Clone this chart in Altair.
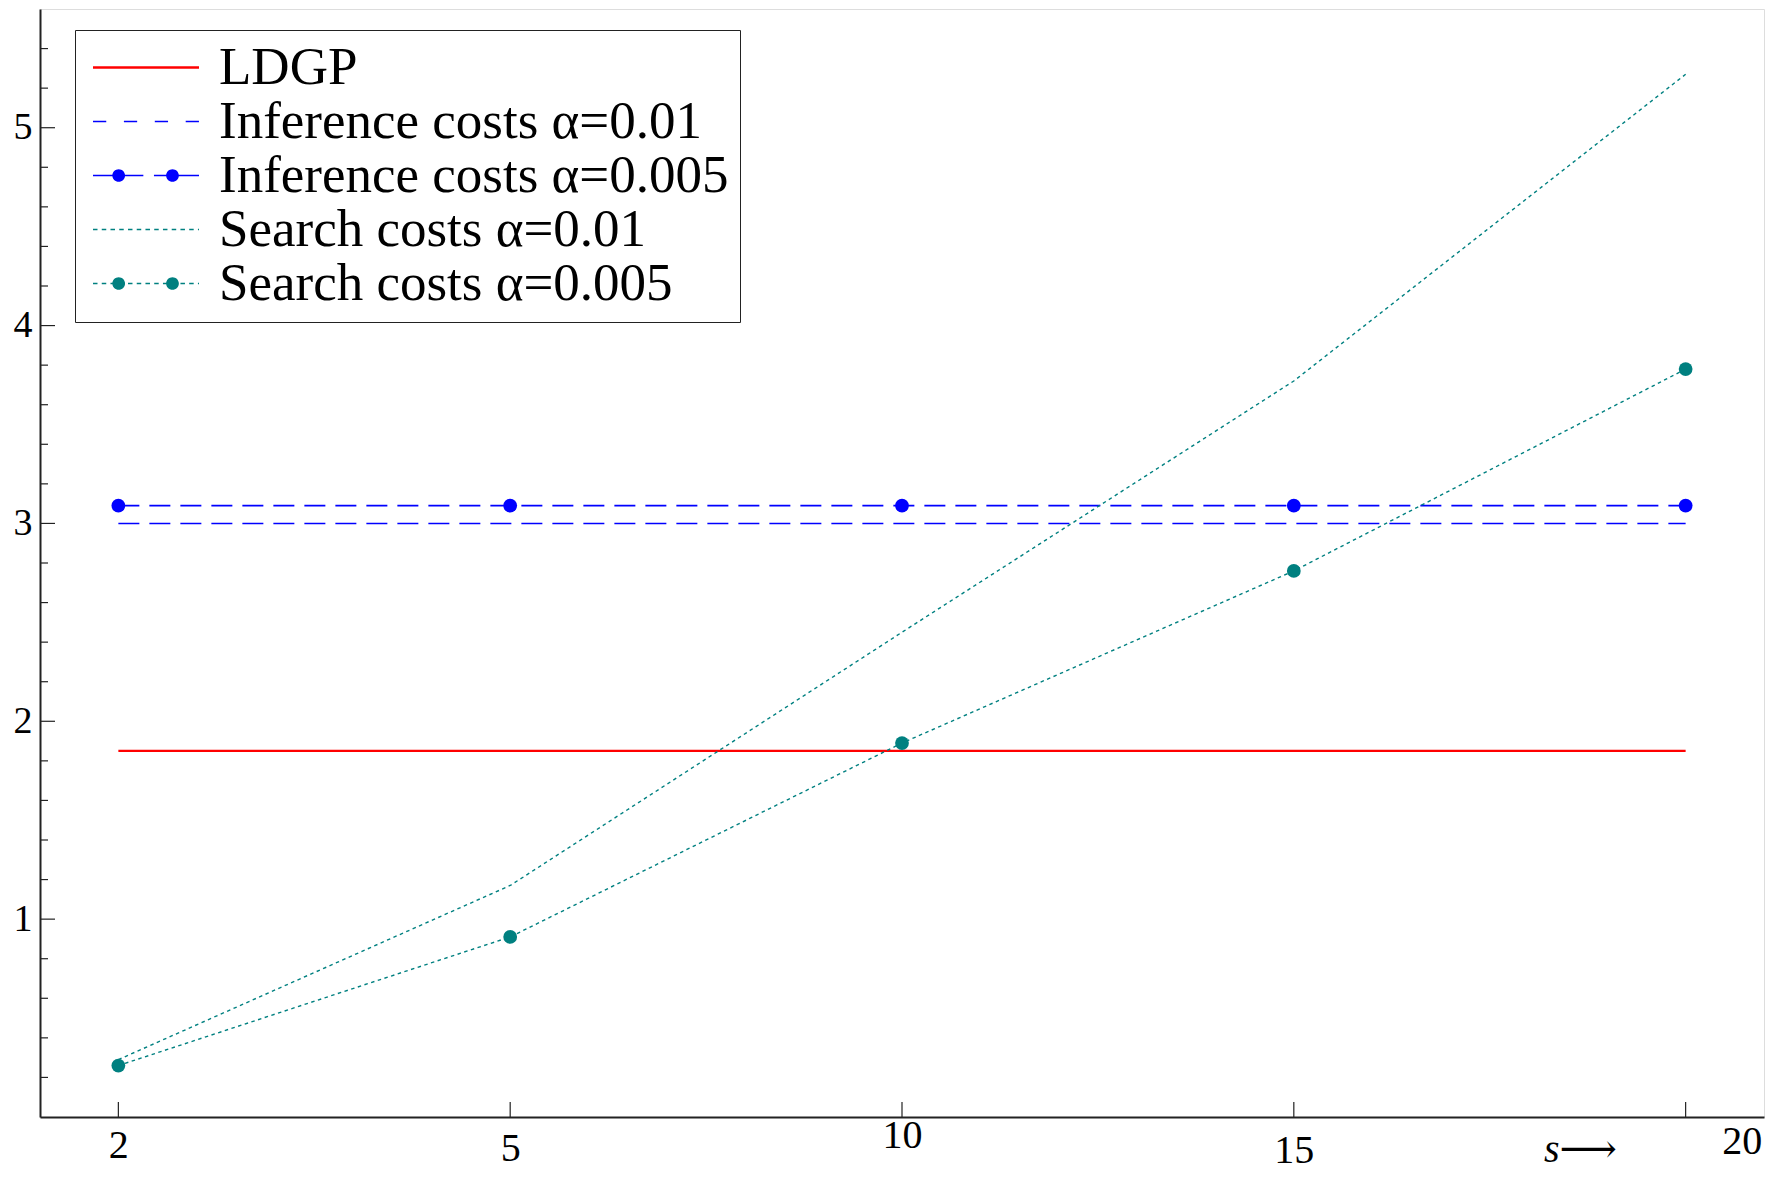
import json
import altair as alt
import pandas as pd

# ---------------- data ----------------
s_labels = ["2", "5", "10", "15", "20"]
series_names = [
    "LDGP",
    "Inference costs α=0.01",
    "Inference costs α=0.005",
    "Search costs α=0.01",
    "Search costs α=0.005",
]
series_colors = ["#ff0000", "#0000ff", "#0000ff", "#008080", "#008080"]

ldgp = [1.85, 1.85, 1.85, 1.85, 1.85]
inference_001 = [3.0, 3.0, 3.0, 3.0, 3.0]
inference_0005 = [3.09, 3.09, 3.09, 3.09, 3.09]
search_001 = [0.29, 1.17, 2.45, 3.72, 5.27]
search_0005 = [0.26, 0.91, 1.89, 2.76, 3.78]

y_major = [1, 2, 3, 4, 5]
y_minor = [0.2, 0.4, 0.6, 0.8, 1.2, 1.4, 1.6, 1.8, 2.2, 2.4, 2.6, 2.8,
           3.2, 3.4, 3.6, 3.8, 4.2, 4.4, 4.6, 4.8, 5.2, 5.4]
x_label_pad = [28, 31, 18, 33, 24]
x_label_shift = [0, 0, 0, 0, 56]

rows = []
for name, vals in zip(series_names, [ldgp, inference_001, inference_0005, search_001, search_0005]):
    for i, v in enumerate(vals):
        rows.append({"i": i, "series": name, "value": v})
df = pd.DataFrame(rows)

W, H = 1724, 1108
FONT = "Liberation Serif"

x_axis = alt.Axis(
    values=list(range(len(s_labels))),
    labelExpr=json.dumps(s_labels) + "[datum.value]",
    labelFont=FONT, labelFontSize=40, labelColor="black",
    labelBaseline="middle",
    labelPadding={"expr": json.dumps(x_label_pad) + "[datum.value]"},
    labelOffset={"expr": json.dumps(x_label_shift) + "[datum.value]"},
    labelOverlap=False, labelFlush=False, labelBound=False,
    ticks=False, tickSize=0, grid=False,
    domainColor="#222", domainWidth=2,
    title="s⟶", titleFont="Liberation Serif, DejaVu Serif", titleFontSize=40,
    titleFontStyle="italic", titleFontWeight="normal", titleColor="black",
    titleX=1540, titleY=32, titleBaseline="middle", titleAlign="center",
)
y_axis = alt.Axis(
    values=y_major, labelFont=FONT, labelFontSize=38, labelColor="black",
    labelPadding=8, ticks=False, tickSize=0, grid=False,
    domainColor="#222", domainWidth=2, title=None,
)
x_scale = alt.Scale(domain=[-0.2, 4.2], nice=False, zero=False)
y_scale = alt.Scale(domain=[0, 5.6], nice=False, zero=False)


def xe(field="i"):
    return alt.X(f"{field}:Q", scale=x_scale, axis=x_axis)


def ye(field="value"):
    return alt.Y(f"{field}:Q", scale=y_scale, axis=y_axis)


base = alt.Chart(df).encode(x=xe(), y=ye())


def series(name):
    return base.transform_filter(alt.datum.series == name)


layers = [
    series(series_names[0]).mark_line(color=series_colors[0], strokeWidth=2.2),
    series(series_names[1]).mark_line(color=series_colors[1], strokeWidth=1.6, strokeDash=[21, 10]),
    series(series_names[2]).mark_line(color=series_colors[2], strokeWidth=1.6, strokeDash=[21, 10]),
    series(series_names[3]).mark_line(color=series_colors[3], strokeWidth=1.4, strokeDash=[3.5, 3.5]),
    series(series_names[4]).mark_line(color=series_colors[4], strokeWidth=1.4, strokeDash=[3.5, 3.5]),
    series(series_names[2]).mark_point(filled=True, opacity=1, size=190, color=series_colors[2]),
    series(series_names[4]).mark_point(filled=True, opacity=1, size=190, color=series_colors[4]),
]

# inward tick marks
ymaj_df = pd.DataFrame({"value": y_major})
ymin_df = pd.DataFrame({"value": y_minor})
xt_df = pd.DataFrame({"i": list(range(len(s_labels)))})
layers.append(alt.Chart(ymaj_df).mark_rule(color="#222", strokeWidth=1.2).encode(
    y=ye(), x=alt.value(0), x2=alt.value(15)))
layers.append(alt.Chart(ymin_df).mark_rule(color="#222", strokeWidth=1.2).encode(
    y=ye(), x=alt.value(0), x2=alt.value(8)))
layers.append(alt.Chart(xt_df).mark_rule(color="#222", strokeWidth=1.2).encode(
    x=xe(), y=alt.value(H), y2=alt.value(H - 15)))


# legend symbols (unit coords, -1..1 spans the symbol width)
def rect(x0, x1, h):
    return f"M{x0:.3f},{-h/2:.3f}H{x1:.3f}V{h/2:.3f}H{x0:.3f}Z"


def circ(cx, r):
    return (f"M{cx - r:.3f},0A{r},{r} 0 1,1 {cx + r:.3f},0"
            f"A{r},{r} 0 1,1 {cx - r:.3f},0Z")


def dashes(x0, x1, dash, gap, h):
    out, x = [], x0
    while x < x1 - 1e-6:
        out.append(rect(x, min(x + dash, x1), h))
        x += dash + gap
    return "".join(out)


sym_solid = rect(-1, 1, 0.05)
sym_dash = dashes(-1, 1, 0.25, 0.333, 0.032)
sym_dash_dot = rect(-1, -0.05, 0.032) + rect(0.15, 1, 0.032) + circ(-0.515, 0.12) + circ(0.5, 0.12)
sym_dot = dashes(-1, 1, 0.085, 0.08, 0.03)
sym_dot_dot = dashes(-1, 1, 0.085, 0.08, 0.03) + circ(-0.515, 0.12) + circ(0.5, 0.12)
symbol_paths = [sym_solid, sym_dash, sym_dash_dot, sym_dot, sym_dot_dot]

leg_df = pd.DataFrame({"series": series_names, "i": [0] * 5, "value": [0.0] * 5})
legend = alt.Legend(
    orient="none", legendX=35, legendY=21, title=None,
    labelFont=FONT, labelFontSize=53, labelColor="black", labelLimit=3000,
    labelOffset=20, clipHeight=53, rowPadding=0, padding=11,
    symbolSize=11236, symbolOffset=7, symbolStrokeWidth=0, symbolOpacity=1,
    strokeColor="#222", fillColor="white", cornerRadius=0,
)
legend_layer = alt.Chart(leg_df).transform_filter("false").mark_point(
    filled=True, opacity=1, size=11236, strokeWidth=0
).encode(
    x=xe(), y=ye(),
    color=alt.Color("series:N", scale=alt.Scale(domain=series_names, range=series_colors), legend=legend),
    shape=alt.Shape("series:N", scale=alt.Scale(domain=series_names, range=symbol_paths), legend=legend),
)
layers.append(legend_layer)

chart = alt.layer(*layers).properties(
    width=W, height=H,
    autosize=alt.AutoSizeParams(type="none"),
    padding={"left": 32, "top": 1, "right": 2, "bottom": 53},
).configure_view(stroke="black", strokeWidth=1.5).configure(background="white")

chart.save("out.html", embed_options={"renderer": "svg", "actions": False})
